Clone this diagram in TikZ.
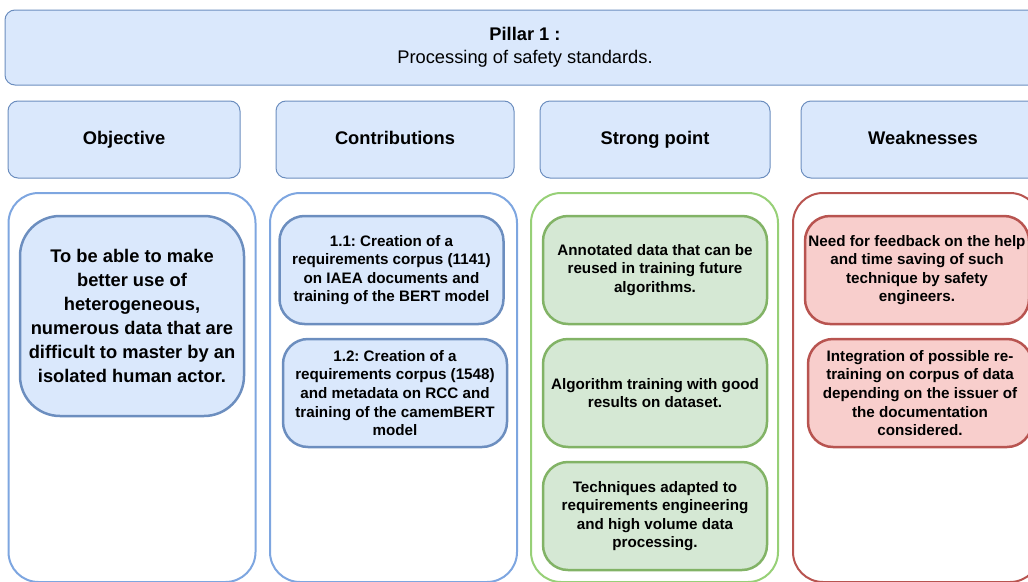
\documentclass[tikz,border=0pt]{standalone}
\usepackage{fontspec}
\setmainfont{Liberation Sans}
\usepackage{tikz}
\usetikzlibrary{positioning,shapes.misc}
\frenchspacing
\definecolor{pillfill}{HTML}{DAE8FC}
\definecolor{pilldraw}{HTML}{6C8EBF}
\definecolor{colblue}{HTML}{7EA6E0}
\definecolor{okfill}{HTML}{D5E8D4}
\definecolor{okdraw}{HTML}{82B366}
\definecolor{colgreen}{HTML}{97D077}
\definecolor{badfill}{HTML}{F8CECC}
\definecolor{baddraw}{HTML}{B85450}
\tikzset{
  pillarbox/.style={draw=pilldraw,fill=pillfill,rounded corners=10pt,line width=1pt,
    minimum width=1040pt,minimum height=75pt,align=center,
    font=\fontsize{18.3}{23}\selectfont},
  headbox/.style={draw=pilldraw,fill=pillfill,rounded corners=10pt,line width=1pt,
    minimum height=77pt,text height=13pt,text depth=4pt,
    font=\fontsize{18.3}{21}\selectfont\bfseries},
  colframe/.style={draw=#1,rounded corners=30pt,line width=2pt,
    minimum width=247pt,minimum height=389pt},
  itembox/.style={rounded corners=25pt,line width=2.5pt,minimum width=224pt,
    minimum height=108pt,align=center,inner sep=1pt,
    font=\fontsize{15.2}{18.6}\selectfont\bfseries},
  contribbox/.style={itembox,draw=pilldraw,fill=pillfill},
  strongbox/.style={itembox,draw=okdraw,fill=okfill},
  weakbox/.style={itembox,draw=baddraw,fill=badfill},
}
\begin{document}
\begin{tikzpicture}[x=1pt,y=-1pt]
  \path[use as bounding box,clip] (0,0) rectangle (1028,581);
  % --- banner ---
  \node[pillarbox] (pillar) at (525,47.5)
    {\textbf{Pillar 1 :}\\Processing of safety standards.};
  % --- column headers ---
  \node[headbox,minimum width=232pt] (hobj) at (124,139.5) {Objective};
  \node[headbox,minimum width=238pt] (hcon) at (395,139.5) {Contributions};
  \node[headbox,minimum width=230pt] (hstr) at (655,139.5) {Strong point};
  \node[headbox,minimum width=244pt] (hweak) at (923,139.5) {Weaknesses};
  % --- column frames ---
  \node[colframe=colblue] (cobj) at (132,387.5) {};
  \node[colframe=colblue] (ccon) at (393.5,387.5) {};
  \node[colframe=colgreen] (cstr) at (654.5,387.5) {};
  \node[colframe=baddraw] (cweak) at (916.5,387.5) {};
  % --- objective ---
  \node[contribbox,rounded corners=40pt,minimum height=200pt,
    font=\fontsize{18.3}{24}\selectfont\bfseries] (obj) at (132,316)
    {To be able to make\\better use of\\heterogeneous,\\numerous data that are\\difficult to master by an\\isolated human actor.};
  % --- contributions ---
  \node[contribbox] (con1) at (391.5,270)
    {1.1: Creation of a\\requirements corpus (1141)\\on IAEA documents and\\training of the BERT model};
  \node[contribbox] (con2) at (395,393)
    {1.2: Creation of a\\requirements corpus (1548)\\and metadata on RCC and\\training of the camemBERT\\model};
  % --- strong points ---
  \node[strongbox] (str1) at (655,270)
    {Annotated data that can be\\reused in training future\\algorithms.};
  \node[strongbox] (str2) at (655,393)
    {Algorithm training with good\\results on dataset.};
  \node[strongbox] (str3) at (655,516)
    {Techniques adapted to\\requirements engineering\\and high volume data\\processing.};
  % --- weaknesses ---
  \node[weakbox] (weak1) at (917,270)
    {Need for feedback on the help\\and time saving of such\\technique by safety\\engineers.};
  \node[weakbox] (weak2) at (920,393)
    {Integration of possible re-\\training on corpus of data\\depending on the issuer of\\the documentation\\considered.};
\end{tikzpicture}
\end{document}
